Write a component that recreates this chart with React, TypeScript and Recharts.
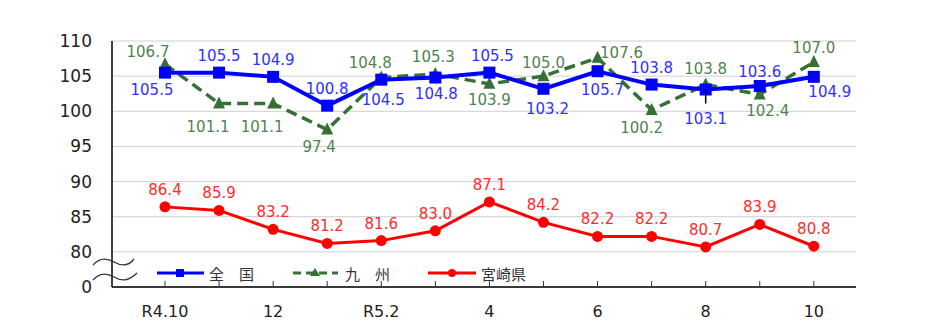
import React from "react";
import {
  LineChart,
  Line,
  XAxis,
  YAxis,
  CartesianGrid,
  LabelList,
  Legend,
} from "recharts";

// R4.10 ... R5.10
const months = ["R4.10", "11", "12", "1", "R5.2", "3", "4", "5", "6", "7", "8", "9", "10"];
const national = [105.5, 105.5, 104.9, 100.8, 104.5, 104.8, 105.5, 103.2, 105.7, 103.8, 103.1, 103.6, 104.9];
const kyushu = [106.7, 101.1, 101.1, 97.4, 104.8, 105.3, 103.9, 105.0, 107.6, 100.2, 103.8, 102.4, 107.0];
const miyazaki = [86.4, 85.9, 83.2, 81.2, 81.6, 83.0, 87.1, 84.2, 82.2, 82.2, 80.7, 83.9, 80.8];
const yTicks = [75, 80, 85, 90, 95, 100, 105, 110];

// label placement [dx, dy] per point
const nationalPos = [[-13, 17], [0, -17], [0, -17], [0, -17], [2, 20], [1, 16], [3, -17], [4, 20], [5, 19], [0, -17], [0, 30], [0, -14], [16, 15]];
const kyushuPos = [[-17, -12], [-11, 23], [-11, 23], [-8, 17], [-11, -15], [-2, -17], [0, 16], [0, -13], [24, -5], [-10, 18], [0, -16], [8, 17], [0, -14]];

const BLUE = "#0000ff";
const GREEN = "#357035";
const RED = "#ff0000";
const FONT = "'DejaVu Sans', Verdana, sans-serif";
const JP = "'Noto Sans CJK JP', sans-serif";

const rows = months.map((m, i) => ({
  idx: i,
  national: national[i],
  kyushu: kyushu[i],
  miyazaki: miyazaki[i],
}));

const makeLabel = (pos: number[][] | null, color: string, leaderAt = -1) =>
  (props: any) => {
    const { x, y, value, index } = props;
    const [dx, dy] = pos ? pos[index] : [0, -17];
    return (
      <g>
        {index === leaderAt && (
          <line x1={x} y1={y} x2={x} y2={y + 14} stroke="#000" strokeWidth={1.5} />
        )}
        <text
          x={x + dx}
          y={y + dy}
          textAnchor="middle"
          dominantBaseline="central"
          fill={color}
          fontSize={15}
          fontFamily={FONT}
        >
          {Number(value).toFixed(1)}
        </text>
      </g>
    );
  };

const SquareDot = (props: any) => (
  <rect key={props.index} x={props.cx - 6} y={props.cy - 6} width={12} height={12} fill={BLUE} />
);
const TriDot = (props: any) => (
  <path
    key={props.index}
    d={`M${props.cx},${props.cy - 7} L${props.cx + 6},${props.cy + 5} L${props.cx - 6},${props.cy + 5} Z`}
    fill={GREEN}
  />
);
const CircleDot = (props: any) => (
  <circle key={props.index} cx={props.cx} cy={props.cy} r={5.5} fill={RED} />
);

const XTick = (props: any) => {
  const { x, y, payload } = props;
  const i = payload.value;
  return (
    <g>
      <line x1={x} y1={y} x2={x} y2={y - 6} stroke="#333" />
      {i % 2 === 0 && (
        <text x={x} y={y + 24} textAnchor="middle" dominantBaseline="central" fontSize={16} fontFamily={FONT} fill="#222">
          {months[i]}
        </text>
      )}
    </g>
  );
};

const LegendBox = () => (
  <svg width={420} height={20}>
    <line x1={7} y1={10} x2={54} y2={10} stroke={BLUE} strokeWidth={3} />
    <rect x={26} y={6} width={8} height={8} fill={BLUE} />
    <text x={59} y={10} dominantBaseline="central" fontSize={15} fontFamily={JP} fill="#333">全　国</text>
    <line x1={143} y1={10} x2={188} y2={10} stroke={GREEN} strokeWidth={3} strokeDasharray="8 5" />
    <path d="M165,5 L170,13 L160,13 Z" fill={GREEN} />
    <text x={195} y={10} dominantBaseline="central" fontSize={15} fontFamily={JP} fill="#333">九　州</text>
    <line x1={278} y1={10} x2={326} y2={10} stroke={RED} strokeWidth={3} />
    <circle cx={302} cy={10} r={4} fill={RED} />
    <text x={331} y={10} dominantBaseline="central" fontSize={15} fontFamily={JP} fill="#333">宮崎県</text>
  </svg>
);

export default function App() {
  return (
    <div style={{ position: "absolute", left: 0, top: 0, width: 932, height: 335, background: "#fff" }}>
      <LineChart width={932} height={335} data={rows} margin={{ top: 41, right: 76, bottom: 18, left: 0 }}>
        <CartesianGrid vertical={false} stroke="#cfcfcf" />
        <XAxis
          dataKey="idx"
          type="number"
          domain={[-0.98, 12.78]}
          ticks={rows.map((r) => r.idx)}
          tick={<XTick />}
          tickLine={false}
          tickSize={0}
          tickMargin={0}
          height={30}
          axisLine={{ stroke: "#000", strokeWidth: 1.5 }}
        />
        <XAxis xAxisId="top" orientation="top" type="number" domain={[0, 1]} tick={false} tickLine={false} height={0} axisLine={{ stroke: "#000", strokeWidth: 1.5 }} />
        <YAxis
          type="number"
          domain={[75, 110]}
          ticks={yTicks}
          tickFormatter={(v: number) => (v === 75 ? "0" : String(v))}
          width={112}
          tickLine={false}
          tickSize={0}
          tickMargin={20}
          tick={{ fontSize: 17, fontFamily: FONT, fill: "#222" }}
          axisLine={{ stroke: "#000", strokeWidth: 1.5 }}
        />
        <YAxis yAxisId="r" orientation="right" domain={[0, 1]} tick={false} tickLine={false} width={0} axisLine={{ stroke: "#000", strokeWidth: 1.5 }} />
        <Legend
          layout="horizontal"
          verticalAlign="middle"
          align="center"
          content={<LegendBox />}
          wrapperStyle={{ position: "absolute", left: 150, top: 263, width: 420, height: 20 }}
        />
        <Line
          dataKey="miyazaki"
          stroke={RED}
          strokeWidth={3}
          dot={<CircleDot />}
          isAnimationActive={false}
        >
          <LabelList dataKey="miyazaki" content={makeLabel(null, "#ff2b2b")} />
        </Line>
        <Line
          dataKey="kyushu"
          stroke={GREEN}
          strokeWidth={3.5}
          strokeDasharray="11 6"
          dot={<TriDot />}
          isAnimationActive={false}
        >
          <LabelList dataKey="kyushu" content={makeLabel(kyushuPos, "#4e844e")} />
        </Line>
        <Line
          dataKey="national"
          stroke={BLUE}
          strokeWidth={4}
          dot={<SquareDot />}
          isAnimationActive={false}
        >
          <LabelList dataKey="national" content={makeLabel(nationalPos, "#3030ff", 10)} />
        </Line>
      </LineChart>
      {/* axis break marks */}
      <svg width={932} height={335} style={{ position: "absolute", left: 0, top: 0, pointerEvents: "none" }}>
        <path d="M93,265 C100,257 107,258 114,262 S128,267 134,259" fill="none" stroke="#333" strokeWidth={1.3} />
        <path d="M93,280 C100,272 107,273 114,277 S128,282 137,273" fill="none" stroke="#333" strokeWidth={1.3} />
      </svg>
    </div>
  );
}
